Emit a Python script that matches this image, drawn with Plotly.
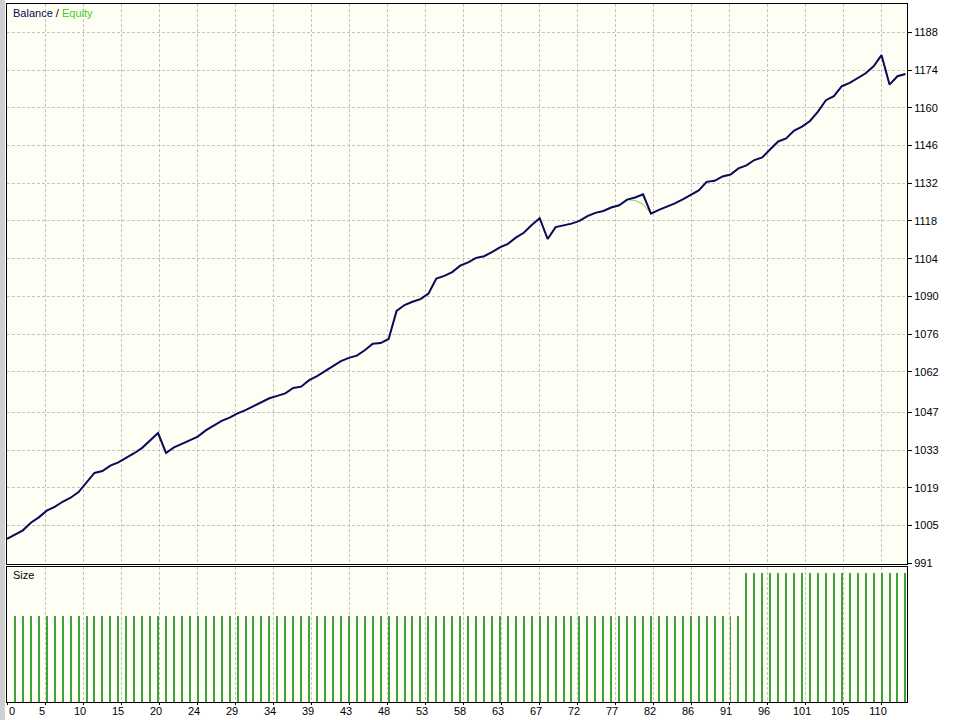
import plotly.graph_objects as go

# balance / equity after each closed trade
trades = list(range(114))
balance = [
    1000.0, 1001.6, 1003.2, 1006.0, 1008.0, 1010.5, 1011.9, 1013.8, 1015.3, 1017.4,
    1021.0, 1024.5, 1025.2, 1027.2, 1028.4, 1030.0, 1031.8, 1033.8, 1036.5, 1039.3,
    1031.9, 1034.0, 1035.3, 1036.8, 1038.0, 1040.3, 1042.2, 1043.8, 1045.0, 1046.6,
    1047.8, 1049.2, 1050.9, 1052.2, 1053.1, 1054.0, 1056.0, 1056.5, 1058.9, 1060.4,
    1062.3, 1064.0, 1066.0, 1067.2, 1068.0, 1070.0, 1072.4, 1072.7, 1074.2, 1084.6,
    1086.8, 1088.0, 1089.0, 1091.0, 1096.6, 1097.6, 1099.0, 1101.4, 1102.6, 1104.3,
    1104.9, 1106.4, 1108.2, 1109.5, 1111.8, 1113.6, 1116.5, 1119.0, 1111.3, 1115.7,
    1116.4, 1117.0, 1118.0, 1119.8, 1121.0, 1121.7, 1123.0, 1123.8, 1125.9, 1126.7,
    1127.9, 1120.7, 1122.1, 1123.3, 1124.5, 1126.0, 1127.6, 1129.3, 1132.5, 1132.9,
    1134.5, 1135.2, 1137.5, 1138.6, 1140.6, 1141.6, 1144.6, 1147.5, 1148.6, 1151.5,
    1153.0, 1155.1, 1158.6, 1162.8, 1164.3, 1168.0, 1169.2, 1171.0, 1172.8, 1175.4,
    1179.5, 1168.6, 1171.7, 1172.5,
]
equity = [
    1000.0, 1001.6, 1003.2, 1006.0, 1008.0, 1010.5, 1011.9, 1013.8, 1015.3, 1017.4,
    1021.0, 1024.5, 1025.2, 1027.2, 1028.4, 1030.0, 1031.8, 1033.8, 1036.5, 1039.3,
    1031.9, 1034.0, 1035.3, 1036.8, 1038.0, 1040.3, 1042.2, 1043.8, 1045.0, 1046.6,
    1047.8, 1049.2, 1050.9, 1052.2, 1053.1, 1054.0, 1056.0, 1056.5, 1058.9, 1060.4,
    1062.3, 1064.0, 1066.0, 1067.2, 1068.0, 1070.0, 1072.4, 1072.7, 1074.2, 1084.6,
    1086.8, 1088.0, 1089.0, 1091.0, 1096.6, 1097.6, 1099.0, 1101.4, 1102.6, 1104.3,
    1104.9, 1106.4, 1108.2, 1109.5, 1111.8, 1113.6, 1116.5, 1119.0, 1111.3, 1115.7,
    1116.4, 1117.0, 1118.0, 1119.8, 1121.0, 1121.7, 1123.0, 1123.8, 1125.9, 1125.6,
    1124.2, 1120.7, 1122.1, 1123.3, 1124.5, 1126.0, 1127.6, 1129.3, 1132.5, 1132.9,
    1134.5, 1135.2, 1137.5, 1138.6, 1140.6, 1141.6, 1144.6, 1147.5, 1148.6, 1151.5,
    1153.0, 1155.1, 1158.6, 1162.8, 1164.3, 1168.0, 1169.2, 1171.0, 1172.8, 1175.4,
    1179.5, 1168.6, 1171.7, 1172.5,
]

# lot size per trade
size_trades = list(range(1, 114))
lot_size = [
    0.1, 0.1, 0.1, 0.1, 0.1, 0.1, 0.1, 0.1, 0.1, 0.1,
    0.1, 0.1, 0.1, 0.1, 0.1, 0.1, 0.1, 0.1, 0.1, 0.1,
    0.1, 0.1, 0.1, 0.1, 0.1, 0.1, 0.1, 0.1, 0.1, 0.1,
    0.1, 0.1, 0.1, 0.1, 0.1, 0.1, 0.1, 0.1, 0.1, 0.1,
    0.1, 0.1, 0.1, 0.1, 0.1, 0.1, 0.1, 0.1, 0.1, 0.1,
    0.1, 0.1, 0.1, 0.1, 0.1, 0.1, 0.1, 0.1, 0.1, 0.1,
    0.1, 0.1, 0.1, 0.1, 0.1, 0.1, 0.1, 0.1, 0.1, 0.1,
    0.1, 0.1, 0.1, 0.1, 0.1, 0.1, 0.1, 0.1, 0.1, 0.1,
    0.1, 0.1, 0.1, 0.1, 0.1, 0.1, 0.1, 0.1, 0.1, 0.1,
    0.1, 0.1, 0.15, 0.15, 0.15, 0.15, 0.15, 0.15, 0.15, 0.15,
    0.15, 0.15, 0.15, 0.15, 0.15, 0.15, 0.15, 0.15, 0.15, 0.15,
    0.15, 0.15, 0.15,
]

x_labels = ["0", "5", "10", "15", "20", "24", "29", "34", "39", "43", "48", "53",
            "58", "63", "67", "72", "77", "82", "86", "91", "96", "101", "105", "110"]
y_labels = [991, 1005, 1019, 1033, 1047, 1062, 1076, 1090, 1104, 1118, 1132,
            1146, 1160, 1174, 1188]

x_step = 4.78
x_ticks = [k * x_step for k in range(len(x_labels))]

font = dict(family="Liberation Sans, Arial, sans-serif", size=11, color="black")
grid = dict(showgrid=True, gridcolor="#c4c4c4", griddash="3px,2px", gridwidth=1,
            zeroline=False, showline=True, mirror=True, linecolor="black", linewidth=1,
            automargin=False)

fig = go.Figure()

fig.add_trace(go.Scatter(x=trades, y=equity, mode="lines",
                         line=dict(color="#88cc55", width=1), xaxis="x", yaxis="y"))
fig.add_trace(go.Scatter(x=trades, y=balance, mode="lines",
                         line=dict(color="#0a0a5c", width=2), xaxis="x", yaxis="y"))
fig.add_trace(go.Bar(x=size_trades, y=lot_size, width=0.126,
                     marker=dict(color="#3ea33e", line=dict(width=0)),
                     xaxis="x2", yaxis="y2"))

fig.update_layout(
    width=960, height=720,
    margin=dict(l=7, r=53, t=4, b=18),
    paper_bgcolor="white",
    plot_bgcolor="#fefef4",
    showlegend=False,
    font=font,
    bargap=0,
    xaxis=dict(domain=[0, 1], range=[0, 113.2], tickvals=x_ticks, showticklabels=False,
               anchor="y", **grid),
    yaxis=dict(domain=[0.1977, 1], range=[990.7, 1198.5], side="right",
               tickvals=y_labels, ticktext=[str(v) for v in y_labels],
               ticks="outside", ticklen=4, tickcolor="black", anchor="x", **grid),
    # first label sits right of the left edge, so it is drawn separately below
    xaxis2=dict(domain=[0, 1], range=[0, 113.2], tickvals=x_ticks,
                ticktext=[""] + x_labels[1:],
                ticks="outside", ticklen=2, tickcolor="black", ticklabelshift=-3,
                ticklabelstandoff=-3, anchor="y2", **grid),
    yaxis2=dict(domain=[0, 0.1934], range=[0, 0.157], showticklabels=False,
                anchor="x2", **{**grid, "showgrid": False}),
)

fig.add_annotation(xref="x2", yref="paper", x=x_ticks[0], y=-1 / 698, xanchor="left",
                   yanchor="top", showarrow=False, font=font, text=x_labels[0])
fig.add_annotation(xref="paper", yref="paper", x=0.004, y=0.998, xanchor="left", yanchor="top",
                   showarrow=False, font=font,
                   text="<span style='color:#0a0a5c'>Balance</span> / "
                        "<span style='color:#44cc11'>Equity</span>")
fig.add_annotation(xref="paper", yref="paper", x=0.004, y=0.1934, xanchor="left", yanchor="top",
                   showarrow=False, font=font, text="Size")

# grey window edge on the left
fig.add_shape(type="rect", xref="paper", yref="paper", x0=-7 / 900, x1=-2 / 900,
              y0=-18 / 698, y1=1 + 4 / 698, fillcolor="#cfcfcf", line=dict(width=0))

# page has a default 8px body margin; drop it so the chart fills the window
fig.write_html("out.html", config={"displayModeBar": False},
               post_script="document.body.style.margin='0';")
